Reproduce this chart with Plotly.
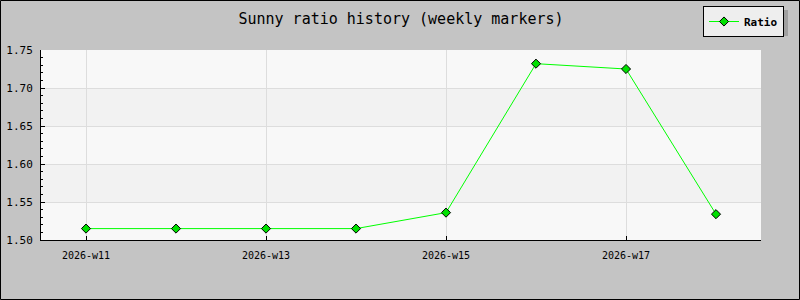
import plotly.graph_objects as go

weeks = ["2026-w11", "2026-w12", "2026-w13", "2026-w14",
         "2026-w15", "2026-w16", "2026-w17", "2026-w18"]
ratio = [1.515, 1.515, 1.515, 1.515, 1.536, 1.732, 1.725, 1.534]
y_ticks = [1.50, 1.55, 1.60, 1.65, 1.70, 1.75]
x_tick_labels = weeks[::2]

W, H = 800, 300
L, R, T, B = 41, 39, 50, 60
PW, PH = W - L - R, H - T - B

def px(x):
    return (x - L) / PW

def py(y):
    return (H - B - y) / PH

MONO = "DejaVu Sans Mono"

fig = go.Figure()
fig.add_trace(go.Scatter(
    x=weeks, y=ratio, mode="lines+markers", name="Ratio",
    line=dict(color="#00FF00", width=1),
    marker=dict(symbol="diamond", size=7, color="#00E000",
                line=dict(color="#000000", width=1)),
    cliponaxis=False,
))

shapes = []
# alternating background bands
for i in range(len(y_ticks) - 1):
    if i % 2 == 1:
        shapes.append(dict(type="rect", xref="paper", yref="y", x0=0, x1=1,
                           y0=y_ticks[i], y1=y_ticks[i + 1],
                           fillcolor="#F2F2F2", line=dict(width=0), layer="below"))
# outer border
shapes.append(dict(type="rect", xref="paper", yref="paper",
                   x0=px(0.5), x1=px(W - 0.5), y0=py(H - 0.5), y1=py(0.5),
                   line=dict(color="#000000", width=1), fillcolor="rgba(0,0,0,0)",
                   layer="above"))
# legend shadow
shapes.append(dict(type="rect", xref="paper", yref="paper",
                   x0=px(706), x1=px(788), y0=py(36), y1=py(10),
                   fillcolor="#A0A0A0", line=dict(width=0), layer="below"))

fig.update_layout(
    width=W, height=H, autosize=False,
    margin=dict(l=L, r=R, t=T, b=B, autoexpand=False),
    paper_bgcolor="#C4C4C4", plot_bgcolor="#F8F8F8",
    title=dict(text="Sunny ratio history (weekly markers)", x=0.5, xref="paper",
               xanchor="center", y=1 - 19 / H, yanchor="middle",
               font=dict(family=MONO, size=15, color="#000000")),
    showlegend=True,
    legend=dict(x=px(784), y=py(6), xanchor="right", yanchor="top",
                bgcolor="#EEEEEE", bordercolor="#000000", borderwidth=1,
                font=dict(family=MONO, size=11, color="#000000", weight="bold"),
                itemwidth=30),
    shapes=shapes,
    xaxis=dict(type="category", range=[-0.5, len(weeks) - 0.5],
               tickvals=x_tick_labels, ticktext=x_tick_labels,
               ticks="inside", ticklen=4, tickcolor="#000000",
               ticklabelstandoff=6, automargin=False,
               showline=True, linecolor="#000000", linewidth=1,
               showgrid=True, gridcolor="#DDDDDD", gridwidth=1,
               zeroline=False,
               tickfont=dict(family=MONO, size=10, color="#000000")),
    yaxis=dict(range=[1.5, 1.75], tickvals=y_ticks, tickformat=".2f",
               ticks="inside", ticklen=4, tickcolor="#000000",
               ticklabelstandoff=5, automargin=False,
               minor=dict(ticks="inside", ticklen=2, dtick=0.01,
                          tickcolor="#000000", showgrid=False),
               showline=True, linecolor="#000000", linewidth=1,
               showgrid=True, gridcolor="#DDDDDD", gridwidth=1,
               zeroline=False,
               tickfont=dict(family=MONO, size=11, color="#000000")),
)

fig.write_html("out.html")
